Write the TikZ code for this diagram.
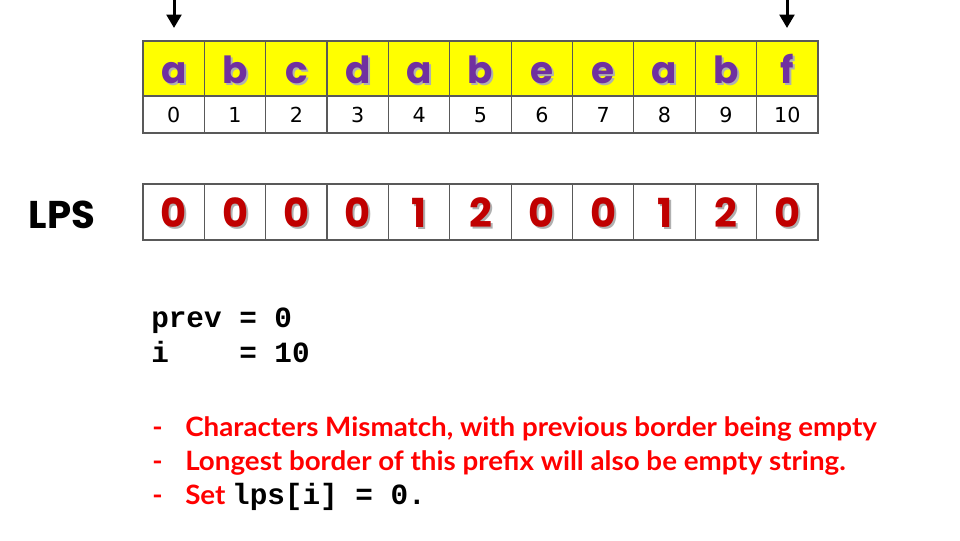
\documentclass[tikz,border=0pt]{standalone}
\usepackage{fontspec}
\setmainfont{DejaVu Sans}
\newfontfamily\comicf{Poppins}
\newfontfamily\codef{Liberation Mono}
\newfontfamily\redf{Lato}[FakeStretch=1.04]
\usetikzlibrary{arrows.meta}
\definecolor{cellyellow}{HTML}{FFFF00}
\definecolor{letterpurple}{HTML}{7030A0}
\definecolor{digitred}{HTML}{C00000}
\definecolor{gridgray}{HTML}{595959}
\definecolor{shadowgray}{HTML}{B0B0B0}
\definecolor{notered}{HTML}{FF0000}
\tikzset{
  cellbox/.style={draw=gridgray, line width=0.9pt, inner sep=0pt, outer sep=0pt, minimum width=46.02pt},
  topcell/.style={cellbox, fill=cellyellow, minimum height=41.25pt},
  idxcell/.style={cellbox, fill=white, minimum height=27.75pt},
  lpscell/.style={cellbox, fill=white, minimum height=42pt},
  lettertxt/.style={anchor=base, inner sep=0pt, font=\comicf\bfseries\fontsize{28}{30}\selectfont, text=letterpurple},
  lettershadow/.style={lettertxt, text=shadowgray},
  idxtxt/.style={anchor=base, inner sep=0pt, font=\fontsize{15.5}{17}\selectfont, text=black},
  digtxt/.style={anchor=base, inner sep=0pt, font=\comicf\bfseries\fontsize{30}{32}\selectfont, text=digitred},
  digshadow/.style={digtxt, text=shadowgray},
  codetxt/.style={anchor=base west, inner sep=0pt, font=\codef\bfseries\fontsize{22}{24}\selectfont, text=black},
  redtxt/.style={anchor=base west, inner sep=0pt, font=\redf\bfseries\fontsize{20}{23}\selectfont, text=notered},
  pointer/.style={line width=2.25pt, -{Triangle[width=11pt,length=10pt]}}
}
\begin{document}
\begin{tikzpicture}[x=0.75pt,y=-0.75pt]
\useasboundingbox (0,0) rectangle (960,540);
\foreach \ch [count=\i from 0] in {a,b,c,d,a,b,e,e,a,b,f} {
  \pgfmathsetmacro\cx{143+61.36*(\i+0.5)}
  \node[topcell] (cell\i) at (\cx,68.5) {};
  \node[idxcell] (idx\i) at (\cx,114.5) {};
  \node[lettershadow] (letsh\i) at (\cx+2,85) {\ch};
  \node[lettertxt] (let\i) at (\cx,83) {\ch};
  \node[idxtxt] (idxt\i) at (\cx,122) {\i};
}
\foreach \v [count=\i from 0] in {0,0,0,0,1,2,0,0,1,2,0} {
  \pgfmathsetmacro\cx{143+61.36*(\i+0.5)}
  \node[lpscell] (lps\i) at (\cx,212) {};
  \node[digshadow] (digsh\i) at (\cx+2,229) {\v};
  \node[digtxt] (dig\i) at (\cx,227) {\v};
}
\node[anchor=base, inner sep=0pt, font=\comicf\bfseries\fontsize{29}{31}\selectfont] (lpslabel) at (62,228) {LPS};
% pointers
\coordinate (p0top) at (174,0);
\coordinate (p0end) at (174,28);
\coordinate (p1top) at (787,0);
\coordinate (p1end) at (787,28);
\draw[pointer] (p0top) -- (p0end);
\draw[pointer] (p1top) -- (p1end);
% code
\node[codetxt] (prevline) at (151,327) {prev = 0};
\node[codetxt] (iline) at (151,362) {i\ \ \ \ = 10};
% notes
\node[redtxt] (d1) at (152,436) {-};
\node[redtxt] (d2) at (152,470) {-};
\node[redtxt] (d3) at (152,504) {-};
\node[redtxt] (n1) at (185,436) {Characters Mismatch, with previous border being empty};
\node[redtxt] (n2) at (185,470) {Longest border of this prefix will also be empty string.};
\node[redtxt] (n3) at (185,504) {Set \textcolor{black}{\codef\bfseries\fontsize{22}{24}\selectfont lps[i] = 0.}};
\end{tikzpicture}
\end{document}
